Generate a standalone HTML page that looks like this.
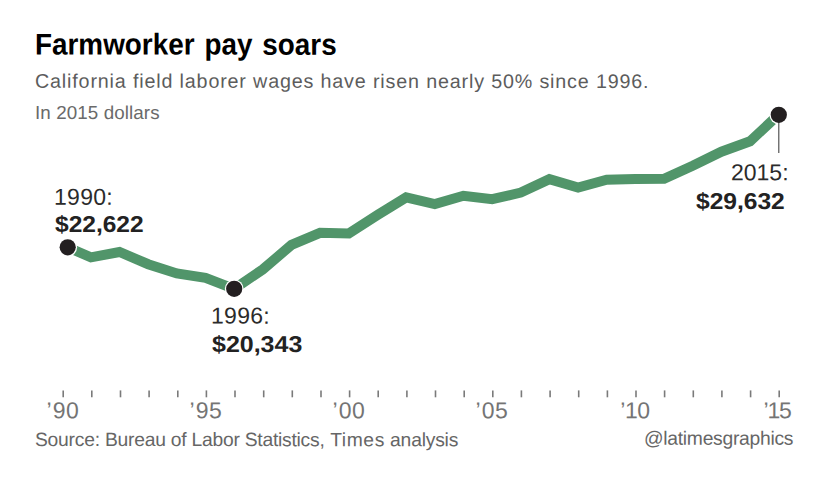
<!DOCTYPE html>
<html>
<head>
<meta charset="utf-8">
<style>
html,body{margin:0;padding:0;background:#fff;}
body{width:831px;height:486px;position:relative;overflow:hidden;font-family:"Liberation Sans",sans-serif;}
.t{position:absolute;white-space:nowrap;line-height:1;transform-origin:0 0;transform:translateY(var(--dy,0px)) rotate(0.03deg);}
#title{--dy:0.5px;left:34.9px;top:28.6px;font-size:30px;font-weight:bold;color:#000;word-spacing:2.3px;transform:translateY(var(--dy,0px)) scaleX(0.929) rotate(0.03deg);}
#sub{--dy:-0.3px;left:35px;top:71.65px;font-size:19.7px;color:#5c5c5c;letter-spacing:0.845px;}
#note{--dy:0px;left:34.7px;top:104.2px;font-size:18.8px;color:#6a6a6a;letter-spacing:0.1px;}
.yr{font-size:23px;color:#2b2b2b;}
.val{font-size:23px;font-weight:bold;color:#222;}
.ax{--dy:0.15px;font-size:23px;color:#747474;width:60px;text-align:center;letter-spacing:0.6px;}
#src{--dy:0px;left:35px;top:430.2px;font-size:19.3px;color:#666;letter-spacing:-0.2px;}
#cred{--dy:-0.2px;left:644.4px;top:428.7px;font-size:19.3px;color:#666;letter-spacing:-0.27px;}
svg{position:absolute;left:0;top:0;}
</style>
</head>
<body>
<div class="t" id="title">Farmworker pay soars</div>
<div class="t" id="sub">California field laborer wages have risen nearly 50% since 1996.</div>
<div class="t" id="note">In 2015 dollars</div>
<svg width="831" height="486" viewBox="0 0 831 486">
<polyline fill="none" stroke="#51956a" stroke-width="10" stroke-linejoin="miter" points="67.7,247.3 90.9,257.3 119.5,252.0 148.2,264.2 176.8,273.4 205.5,277.9 234.2,288.8 262.8,269.4 291.5,244.9 320.1,232.8 348.8,233.5 377.5,215.0 406.1,197.4 434.8,204.1 463.4,195.8 492.1,199.2 520.8,192.6 549.4,179.2 578.1,187.5 606.7,179.7 635.4,179.0 664.1,178.8 692.7,165.8 721.4,151.7 750.0,141.3 778.7,114.5"/>
<circle cx="67.7" cy="247.3" r="9.4" fill="#fff"/>
<circle cx="234.2" cy="288.8" r="9.4" fill="#fff"/>
<circle cx="778.8" cy="114.8" r="9.4" fill="#fff"/>
<line x1="778.8" y1="114.5" x2="778.8" y2="152.9" stroke="#444" stroke-width="1.1"/>
<circle cx="67.7" cy="247.3" r="8.1" fill="#231f20"/>
<circle cx="234.2" cy="288.8" r="8.1" fill="#231f20"/>
<circle cx="778.8" cy="114.8" r="8.1" fill="#231f20"/>
<g stroke="#7a7a7a" stroke-width="1.6" id="ticks"><line x1="63.2" y1="390.4" x2="63.2" y2="397.3"/><line x1="91.8" y1="390.4" x2="91.8" y2="397.3"/><line x1="120.5" y1="390.4" x2="120.5" y2="397.3"/><line x1="149.1" y1="390.4" x2="149.1" y2="397.3"/><line x1="177.8" y1="390.4" x2="177.8" y2="397.3"/><line x1="206.4" y1="390.4" x2="206.4" y2="397.3"/><line x1="235.0" y1="390.4" x2="235.0" y2="397.3"/><line x1="263.7" y1="390.4" x2="263.7" y2="397.3"/><line x1="292.3" y1="390.4" x2="292.3" y2="397.3"/><line x1="321.0" y1="390.4" x2="321.0" y2="397.3"/><line x1="349.6" y1="390.4" x2="349.6" y2="397.3"/><line x1="378.2" y1="390.4" x2="378.2" y2="397.3"/><line x1="406.9" y1="390.4" x2="406.9" y2="397.3"/><line x1="435.5" y1="390.4" x2="435.5" y2="397.3"/><line x1="464.2" y1="390.4" x2="464.2" y2="397.3"/><line x1="492.8" y1="390.4" x2="492.8" y2="397.3"/><line x1="521.4" y1="390.4" x2="521.4" y2="397.3"/><line x1="550.1" y1="390.4" x2="550.1" y2="397.3"/><line x1="578.7" y1="390.4" x2="578.7" y2="397.3"/><line x1="607.4" y1="390.4" x2="607.4" y2="397.3"/><line x1="636.0" y1="390.4" x2="636.0" y2="397.3"/><line x1="664.6" y1="390.4" x2="664.6" y2="397.3"/><line x1="693.3" y1="390.4" x2="693.3" y2="397.3"/><line x1="721.9" y1="390.4" x2="721.9" y2="397.3"/><line x1="750.6" y1="390.4" x2="750.6" y2="397.3"/><line x1="779.2" y1="390.4" x2="779.2" y2="397.3"/></g>
</svg>
<div class="t yr" id="y90" style="--dy:-0.2px;left:54px;top:185.5px;letter-spacing:0.3px">1990:</div>
<div class="t val" id="v90" style="left:55px;top:213.3px;transform:scaleX(1.066) rotate(0.03deg)">$22,622</div>
<div class="t yr" id="y96" style="--dy:0.6px;left:211.2px;top:304.2px;letter-spacing:0.3px">1996:</div>
<div class="t val" id="v96" style="left:212.3px;top:333.3px;transform:scaleX(1.086) rotate(0.03deg)">$20,343</div>
<div class="t yr" id="y15" style="--dy:0.3px;left:730.5px;top:161.1px;">2015:</div>
<div class="t val" id="v15" style="left:695.5px;top:190px;transform:scaleX(1.068) rotate(0.03deg)">$29,632</div>
<div class="t ax" id="a90" style="margin-left:-0.5px;left:33.2px;top:399px;"><span style="margin-right:0.4px">’</span>90</div>
<div class="t ax" id="a95" style="margin-left:-0.5px;left:176.4px;top:399px;"><span style="margin-right:0.4px">’</span>95</div>
<div class="t ax" id="a00" style="margin-left:-0.5px;left:319.6px;top:399px;"><span style="margin-right:0.4px">’</span>00</div>
<div class="t ax" id="a05" style="margin-left:-0.5px;left:462.8px;top:399px;"><span style="margin-right:0.4px">’</span>05</div>
<div class="t ax" id="a10" style="letter-spacing:-0.4px;margin-left:-1.5px;left:606.0px;top:399px;">’10</div>
<div class="t ax" id="a15" style="letter-spacing:-1.3px;margin-left:-2px;left:749.2px;top:399px;">’15</div>
<div class="t" id="src"><span style="letter-spacing:-0.24px">Source: Bureau of Labor Statistics,</span><span style="letter-spacing:0.6px"> Times</span> analysis</div>
<div class="t" id="cred">@latimesgraphics</div>
</body>
</html>
